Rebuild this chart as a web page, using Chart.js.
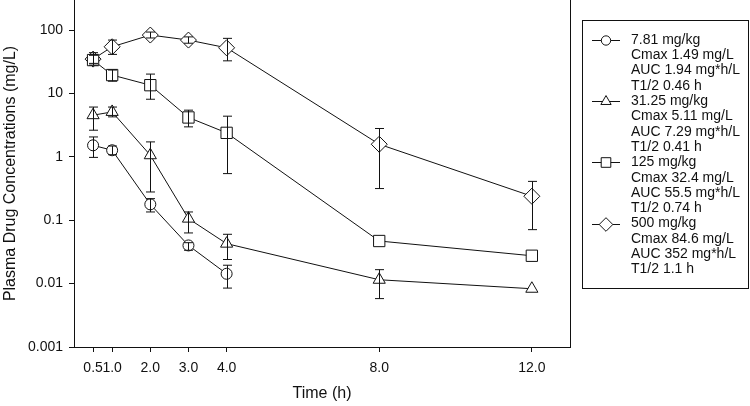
<!DOCTYPE html>
<html>
<head>
<meta charset="utf-8">
<script src="https://cdn.jsdelivr.net/npm/chart.js@4.4.1/dist/chart.umd.min.js"></script>
<style>
  html, body { margin: 0; padding: 0; background: #fff; }
  #wrap { width: 750px; height: 406px; }
</style>
</head>
<body>
<div id="wrap"><canvas id="chart" width="750" height="406"></canvas></div>
<script>
// sampling times (h)
const times = [0.5, 1, 2, 3, 4, 8, 12];
const xTicks = [0.5, 1, 2, 3, 4, 8, 12];
const yTicks = [0.001, 0.01, 0.1, 1, 10, 100];

// mean concentrations (mg/L) and error bar ends, per dose
const mean781 = [1.52, 1.27, 0.178, 0.040, 0.0143];
const lo781 = [0.98, 1.08, 0.135, 0.0336, 0.0085];
const hi781 = [2.06, 1.48, 0.219, 0.0442, 0.0195];

const mean3125 = [4.54, 5.11, 1.06, 0.106, 0.0427, 0.0115, 0.0083];
const lo3125 = [2.63, 4.27, 0.279, 0.063, 0.024, 0.0058, null];
const hi3125 = [6.1, 6.1, 1.72, 0.135, 0.060, 0.0166, null];

const mean125 = [33.6, 19.5, 13.5, 4.18, 2.39, 0.047, 0.0275];
const lo125 = [28, 15.6, 8.1, 2.97, 0.544, null, null];
const hi125 = [40, 23.4, 20.2, 5.45, 4.38, null, null];

const mean500 = [34.8, 54.5, 83.4, 69.5, 52.5, 1.58, 0.239];
const lo500 = [29.8, 41.3, 75, 62, 32.7, 0.316, 0.071];
const hi500 = [44, 69.5, 93, 78, 74, 2.8, 0.41];

// legend text
const doses = ['7.81 mg/kg', '31.25 mg/kg', '125 mg/kg', '500 mg/kg'];
const cmaxText = ['Cmax 1.49 mg/L', 'Cmax 5.11 mg/L', 'Cmax 32.4 mg/L', 'Cmax 84.6 mg/L'];
const aucText = ['AUC 1.94 mg*h/L', 'AUC 7.29 mg*h/L', 'AUC 55.5 mg*h/L', 'AUC 352 mg*h/L'];
const halfText = ['T1/2 0.46 h', 'T1/2 0.41 h', 'T1/2 0.74 h', 'T1/2 1.1 h'];

const FONT = "'Liberation Sans', Arial, Helvetica, sans-serif";
Chart.defaults.font.family = FONT;
Chart.defaults.color = '#111';

const toPoints = (ys) => ys.map((y, i) => ({ x: times[i], y }));

const makeSet = (label, ys, lo, hi, style, r) => ({
  label,
  data: toPoints(ys),
  errLo: lo,
  errHi: hi,
  borderColor: '#111',
  borderWidth: 1,
  pointStyle: style,
  pointRadius: r,
  pointHoverRadius: r,
  pointBackgroundColor: '#fff',
  pointBorderColor: '#111',
  pointBorderWidth: 1,
  tension: 0,
  clip: false,
});

const datasets = [
  makeSet(doses[0], mean781, lo781, hi781, 'circle', 5.5),
  makeSet(doses[1], mean3125, lo3125, hi3125, 'triangle', 7),
  makeSet(doses[2], mean125, lo125, hi125, 'rect', 8),
  makeSet(doses[3], mean500, lo500, hi500, 'rectRot', 8),
];

// error bars + right frame line
const errorBars = {
  id: 'errorBars',
  afterDatasetsDraw(chart) {
    const { ctx, scales: { x, y }, chartArea } = chart;
    ctx.save();
    ctx.strokeStyle = '#111';
    ctx.lineWidth = 1;
    chart.data.datasets.forEach((ds) => {
      ds.data.forEach((p, i) => {
        const lo = ds.errLo[i], hi = ds.errHi[i];
        if (lo == null || hi == null) return;
        const px = Math.round(x.getPixelForValue(p.x)) + 0.5;
        const yl = y.getPixelForValue(lo);
        const yh = y.getPixelForValue(hi);
        ctx.beginPath();
        ctx.moveTo(px, yl); ctx.lineTo(px, yh);
        ctx.moveTo(px - 4.5, yl); ctx.lineTo(px + 4.5, yl);
        ctx.moveTo(px - 4.5, yh); ctx.lineTo(px + 4.5, yh);
        ctx.stroke();
      });
    });
    ctx.beginPath();
    ctx.moveTo(chartArea.right + 0.5, chartArea.top);
    ctx.lineTo(chartArea.right + 0.5, chartArea.bottom);
    ctx.stroke();
    ctx.restore();
  }
};

// boxed legend with four text lines per dose
const boxLegend = {
  id: 'boxLegend',
  afterDraw(chart) {
    const { ctx } = chart;
    const bx = 582.5, by = 20.5, bw = 166, bh = 268;
    const lineH = 15.3;
    ctx.save();
    ctx.strokeStyle = '#111';
    ctx.lineWidth = 1;
    ctx.strokeRect(bx, by, bw, bh);
    ctx.font = '14px ' + FONT;
    ctx.fillStyle = '#111';
    ctx.textBaseline = 'middle';
    ctx.textAlign = 'left';
    chart.data.datasets.forEach((ds, i) => {
      const y0 = 40 + i * 4 * lineH;
      ctx.beginPath();
      ctx.moveTo(592, Math.round(y0) + 0.5);
      ctx.lineTo(620, Math.round(y0) + 0.5);
      ctx.stroke();
      ctx.fillStyle = '#fff';
      Chart.helpers.drawPoint(ctx, { pointStyle: ds.pointStyle, radius: ds.pointRadius * 0.85, rotation: 0, borderWidth: 1 }, 606, Math.round(y0) + 0.5);
      ctx.fillStyle = '#111';
      [doses[i], cmaxText[i], aucText[i], halfText[i]].forEach((t, k) => {
        ctx.fillText(t, 631, y0 + k * lineH);
      });
    });
    ctx.restore();
  }
};

new Chart(document.getElementById('chart'), {
  type: 'line',
  data: { datasets },
  options: {
    responsive: false,
    animation: false,
    layout: { autoPadding: false, padding: { left: 0, right: 180, top: 0, bottom: 0 } },
    plugins: { legend: { display: false }, tooltip: { enabled: false } },
    scales: {
      x: {
        type: 'linear',
        min: 0,
        max: 13,
        afterFit: (s) => { s.height = 59; s.paddingLeft = 0; s.paddingRight = 0; },
        afterBuildTicks: (s) => { s.ticks = xTicks.map((v) => ({ value: v })); },
        ticks: {
          autoSkip: false,
          maxRotation: 0,
          minRotation: 0,
          padding: 8,
          font: { size: 14 },
          callback: (v) => Number(v).toFixed(1),
        },
        grid: { drawOnChartArea: false, drawTicks: true, tickLength: 5, color: '#111' },
        border: { display: true, color: '#111', width: 1 },
        title: { display: true, text: 'Time (h)', font: { size: 16 }, padding: { top: 0, bottom: 3 } },
      },
      y: {
        type: 'logarithmic',
        min: 0.001,
        max: 298,
        afterFit: (s) => { s.width = 74; s.paddingTop = 0; s.paddingBottom = 0; },
        afterBuildTicks: (s) => { s.ticks = yTicks.map((v) => ({ value: v })); },
        ticks: {
          padding: 6,
          font: { size: 14 },
          callback: (v) => String(v),
        },
        grid: { drawOnChartArea: false, drawTicks: true, tickLength: 5, color: '#111' },
        border: { display: true, color: '#111', width: 1 },
        title: { display: true, text: 'Plasma Drug Concentrations (mg/L)', font: { size: 16 }, padding: { top: 1, bottom: 0 } },
      },
    },
  },
  plugins: [errorBars, boxLegend],
});
</script>
</body>
</html>
